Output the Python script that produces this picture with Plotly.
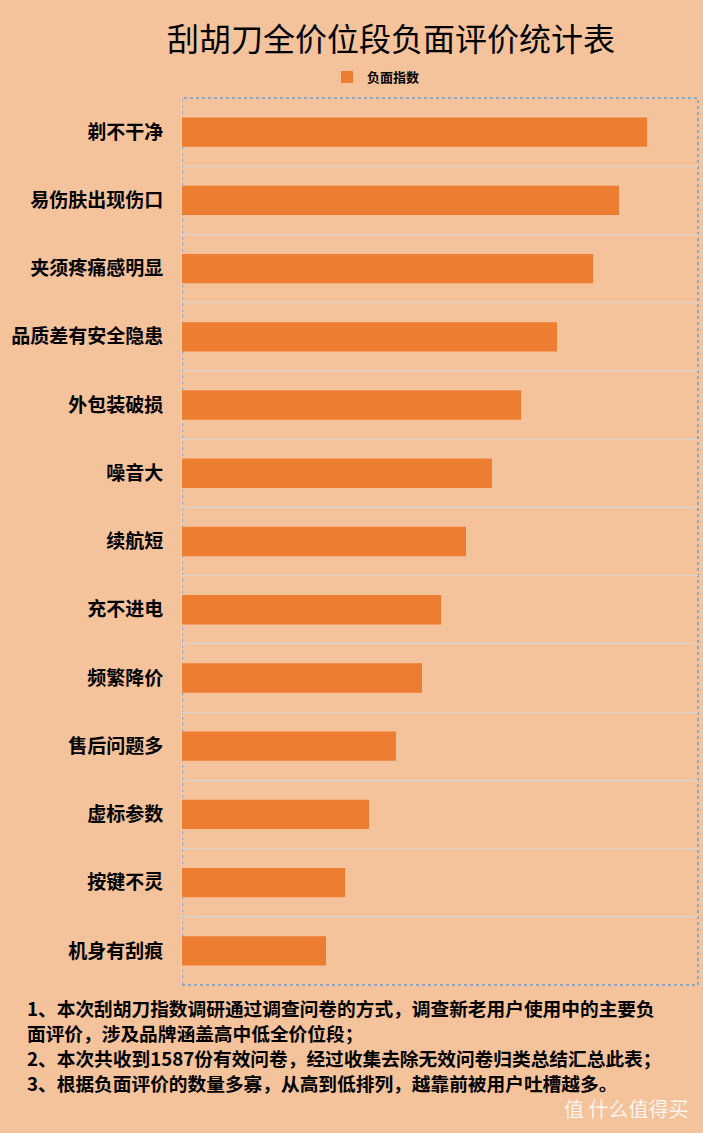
import plotly.graph_objects as go

categories = ["剃不干净", "易伤肤出现伤口", "夹须疼痛感明显", "品质差有安全隐患", "外包装破损",
              "噪音大", "续航短", "充不进电", "频繁降价", "售后问题多", "虚标参数", "按键不灵", "机身有刮痕"]
values = [93.0, 87.4, 82.2, 75.0, 67.8, 62.0, 56.8, 51.8, 48.0, 42.8, 37.4, 32.6, 28.8]
series_name = "负面指数"
title_text = "刮胡刀全价位段负面评价统计表"
notes = [
    "1、本次刮胡刀指数调研通过调查问卷的方式，调查新老用户使用中的主要负",
    "面评价，涉及品牌涵盖高中低全价位段；",
    "2、本次共收到1587份有效问卷，经过收集去除无效问卷归类总结汇总此表；",
    "3、根据负面评价的数量多寡，从高到低排列，越靠前被用户吐槽越多。",
]

BG = "#F4C29B"
BAR = "#ED7D31"
FONT = "Noto Sans CJK SC"

fig = go.Figure()
fig.add_trace(go.Bar(
    y=categories, x=values, orientation="h", name=series_name,
    marker=dict(color=BAR, line=dict(width=0)), showlegend=True,
))

W, H = 703, 1133
L, R, T, B = 182, 5, 98, 148

fig.update_layout(
    width=W, height=H,
    margin=dict(l=L, r=R, t=T, b=B),
    paper_bgcolor=BG, plot_bgcolor=BG,
    font=dict(family=FONT, color="#000000"),
    bargap=0.57,
    title=dict(text=title_text, x=391 / W, xanchor="center", xref="container",
               y=1 - 40 / H, yanchor="middle", yref="container",
               font=dict(size=32, family=FONT, color="#000000")),
    legend=dict(orientation="h", x=376 / W, xanchor="center", xref="container",
                y=1 - 77 / H, yanchor="middle", yref="container",
                font=dict(size=13, family=FONT, color="#000000", weight="bold"),
                bgcolor="rgba(0,0,0,0)", itemwidth=30),
    xaxis=dict(range=[0, 103.2], visible=False, showgrid=False, zeroline=False),
    yaxis=dict(autorange="reversed", tickson="boundaries", showgrid=True,
               gridcolor="#D9D9D9", gridwidth=1, showline=True, linecolor="#D9D9D9",
               ticks="", ticklabelstandoff=14,
               tickfont=dict(size=19, family=FONT, color="#000000", weight="bold")),
)

fig.add_shape(type="rect", xref="paper", yref="paper", x0=0, x1=1, y0=0, y1=1,
              line=dict(color="#2E8BE6", width=1, dash="dot"), layer="below")

line_y = [1007, 1032, 1057, 1082]
for txt, yp in zip(notes, line_y):
    fig.add_annotation(text=txt, xref="paper", yref="paper", x=-(L - 25) / (W - L - R), y=0,
                       xanchor="left", yanchor="middle", yshift=-(yp - (H - B)),
                       showarrow=False, align="left",
                       font=dict(size=18.7, family=FONT, color="#000000", weight="bold"))

fig.add_annotation(text="值 什么值得买", xref="paper", yref="paper", x=1, y=0,
                   xanchor="right", yanchor="middle", yshift=-(1108 - (H - B)), xshift=-8,
                   showarrow=False, font=dict(size=20, family=FONT, color="rgba(255,255,255,0.85)"))

fig.write_html("out.html", config={"displayModeBar": False},
               post_script="document.body.style.margin='0';document.body.style.padding='0';"
                           "document.documentElement.style.overflow='hidden';")
